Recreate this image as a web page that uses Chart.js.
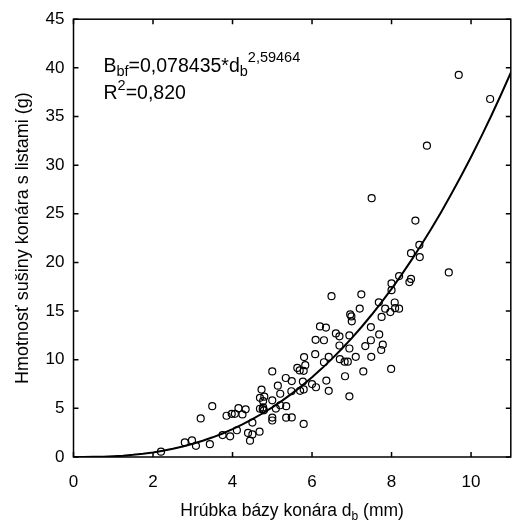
<!DOCTYPE html>
<html lang="sk">
  <head>
    <meta charset="UTF-8" />
    <title>Hmotnosť sušiny konára</title>
    <style>
      body { margin: 0; background: #fff; }
      canvas { display: block; }
    </style>
  </head>
  <body>
    <canvas id="myChart" width="516" height="525"></canvas>

    <script src="https://cdn.jsdelivr.net/npm/chart.js"></script>

    <script>
      // hrúbka bázy konára d_b (mm)
      const diameter = [
        2.2, 2.8, 2.98, 3.08, 3.43, 3.2, 3.49, 3.75, 3.94, 3.85, 3.98, 4.06,
        4.15, 4.25, 4.33, 4.11, 4.39, 4.5, 4.44, 4.68, 4.5,
        4.73, 4.69, 4.8, 4.77, 4.69, 4.76, 4.79, 4.77, 5.0, 5.0, 5.0, 5.0,
        5.09, 5.2, 5.14, 5.2, 5.34, 5.35, 5.35, 5.49, 5.49, 5.48,
        5.79, 5.63, 5.69, 5.79, 5.8, 5.83, 5.77, 5.79, 5.7, 6.0, 6.1, 6.09,
        6.08, 6.2, 6.3, 6.35, 6.42, 6.3, 6.36, 6.42, 6.49,
        6.6, 6.69, 6.69, 6.7, 6.83, 6.82, 6.94, 6.94, 6.9, 6.94, 6.96, 6.99,
        7.0, 7.1,
        7.2, 7.24, 7.29, 7.34, 7.48, 7.48, 7.49, 7.5, 7.68, 7.69, 7.75, 7.78,
        7.74, 7.84, 7.97, 8.0, 8.0, 7.99, 8.08, 8.09, 8.19, 8.19,
        8.45, 8.49, 8.49, 8.7, 8.71, 8.6, 8.89, 9.44, 9.69, 10.48
      ];
      // hmotnosť sušiny konára s listami (g)
      const biomass = [
        0.55, 1.5, 1.7, 1.15, 1.32, 3.97, 5.22, 2.25, 2.13, 4.24, 4.44, 4.44,
        5.02, 4.38, 4.9, 2.75, 2.47, 2.32, 1.68, 2.6, 3.54,
        6.93, 6.08, 6.2, 5.75, 4.96, 4.92, 4.8, 5.1, 8.8, 4.05, 3.75, 5.83,
        4.98, 5.32, 7.33, 6.5, 8.12, 5.22, 4.04, 7.8, 4.07, 6.76,
        3.4, 9.16, 8.9, 8.86, 10.27, 9.44, 7.75, 6.95, 6.8, 7.5, 7.17, 12.04,
        10.57, 13.42, 12.0, 13.3, 10.3, 9.74, 7.86, 6.8, 16.53,
        12.7, 12.4, 11.46, 10.05, 8.3, 9.8, 12.5, 11.15, 9.8, 6.24, 14.65, 14.45,
        13.95, 10.3,
        15.26, 16.72, 8.8, 11.4, 13.35, 12.0, 10.3, 26.6, 15.9, 12.6, 14.4, 11.55,
        11.0, 15.25, 14.9, 17.84, 17.15, 9.05, 15.88, 15.3, 15.25, 18.6,
        17.98, 18.3, 20.95, 21.8, 20.55, 24.3, 32.0, 18.97, 39.27, 36.8
      ];

      const xTicks = [0, 2, 4, 6, 8, 10];
      const yTicks = [0, 5, 10, 15, 20, 25, 30, 35, 40, 45];

      // koeficienty z rovnice v grafe
      const fitA = 0.078435;
      const fitB = 2.59464;
      const fitX = Array.from({ length: 45 }, (_, i) => i * 0.25);

      const fontFamily = "'Liberation Sans', Arial, sans-serif";

      const points = diameter.map((d, i) => ({ x: d, y: biomass[i] }));
      const curve = fitX.map((d) => ({ x: d, y: fitA * Math.pow(d, fitB) }));

      // text with sub/superscripts, parts: [text, size, dy]
      function richText(ctx, parts, x, y, align) {
        let w = 0;
        parts.forEach((p) => {
          ctx.font = p[1] + "px " + fontFamily;
          w += ctx.measureText(p[0]).width;
        });
        let cx = align == "center" ? x - w / 2 : x;
        parts.forEach((p) => {
          ctx.font = p[1] + "px " + fontFamily;
          ctx.fillText(p[0], cx, y + p[2]);
          cx += ctx.measureText(p[0]).width;
        });
      }

      const framePlugin = {
        id: "frame",
        afterDraw(chart) {
          const ctx = chart.ctx;
          const a = chart.chartArea;
          const sx = chart.scales.x;
          const sy = chart.scales.y;
          ctx.save();
          ctx.strokeStyle = "#000";
          ctx.lineWidth = 1.5;
          ctx.strokeRect(a.left, a.top, a.right - a.left, a.bottom - a.top);

          // inward ticks on all four sides
          ctx.beginPath();
          xTicks.forEach((v) => {
            const px = sx.getPixelForValue(v);
            ctx.moveTo(px, a.bottom);
            ctx.lineTo(px, a.bottom - 5);
            ctx.moveTo(px, a.top);
            ctx.lineTo(px, a.top + 5);
          });
          yTicks.forEach((v) => {
            const py = sy.getPixelForValue(v);
            ctx.moveTo(a.left, py);
            ctx.lineTo(a.left + 5, py);
            ctx.moveTo(a.right, py);
            ctx.lineTo(a.right - 5, py);
          });
          ctx.stroke();

          ctx.fillStyle = "#000";
          ctx.textBaseline = "alphabetic";
          ctx.textAlign = "left";

          // equation
          richText(ctx, [["B", 19.5, 0], ["bf", 14.5, 4], ["=0,078435*d", 19.5, 0], ["b", 14.5, 4], ["2,59464", 14.5, -10]], a.left + 30, a.top + 53);
          richText(ctx, [["R", 19.5, 0], ["2", 14.5, -9], ["=0,820", 19.5, 0]], a.left + 30, a.top + 80);

          // x axis title
          richText(ctx, [["Hrúbka bázy konára d", 17.5, 0], ["b", 12, 4], [" (mm)", 17.5, 0]], (a.left + a.right) / 2, 516, "center");

          // y axis title
          ctx.translate(28, (a.top + a.bottom) / 2);
          ctx.rotate(-Math.PI / 2);
          richText(ctx, [["Hmotnosť sušiny konára s listami (g)", 18, 0]], 0, 0, "center");
          ctx.restore();
        },
      };

      const ctx1 = document.getElementById("myChart");

      const chart1 = new Chart(ctx1, {
        type: "scatter",
        data: {
          datasets: [
            {
              label: "merania",
              data: points,
              pointStyle: "circle",
              pointRadius: 3.5,
              borderWidth: 1.2,
              borderColor: "#000",
              backgroundColor: "rgba(0,0,0,0)",
            },
            {
              label: "regresia",
              data: curve,
              showLine: true,
              pointRadius: 0,
              borderWidth: 2,
              borderColor: "#000",
              fill: false,
            },
          ],
        },
        options: {
          responsive: false,
          animation: false,
          devicePixelRatio: 1,
          layout: { padding: { top: 19, right: 3, left: 0, bottom: 0 } },
          plugins: {
            legend: { display: false },
            tooltip: { enabled: false },
          },
          scales: {
            x: {
              type: "linear",
              min: 0,
              max: 11,
              afterBuildTicks: (s) => { s.ticks = xTicks.map((v) => ({ value: v })); },
              afterFit: (s) => { s.height = 68; },
              grid: { display: false, drawTicks: false },
              border: { display: false },
              ticks: { color: "#000", font: { family: fontFamily, size: 17 }, padding: 15 },
            },
            y: {
              min: 0,
              max: 45,
              afterBuildTicks: (s) => { s.ticks = yTicks.map((v) => ({ value: v })); },
              afterFit: (s) => { s.width = 73.5; },
              grid: { display: false, drawTicks: false },
              border: { display: false },
              ticks: { color: "#000", font: { family: fontFamily, size: 17 }, padding: 9 },
            },
          },
        },
        plugins: [framePlugin],
      });
    </script>
  </body>
</html>
